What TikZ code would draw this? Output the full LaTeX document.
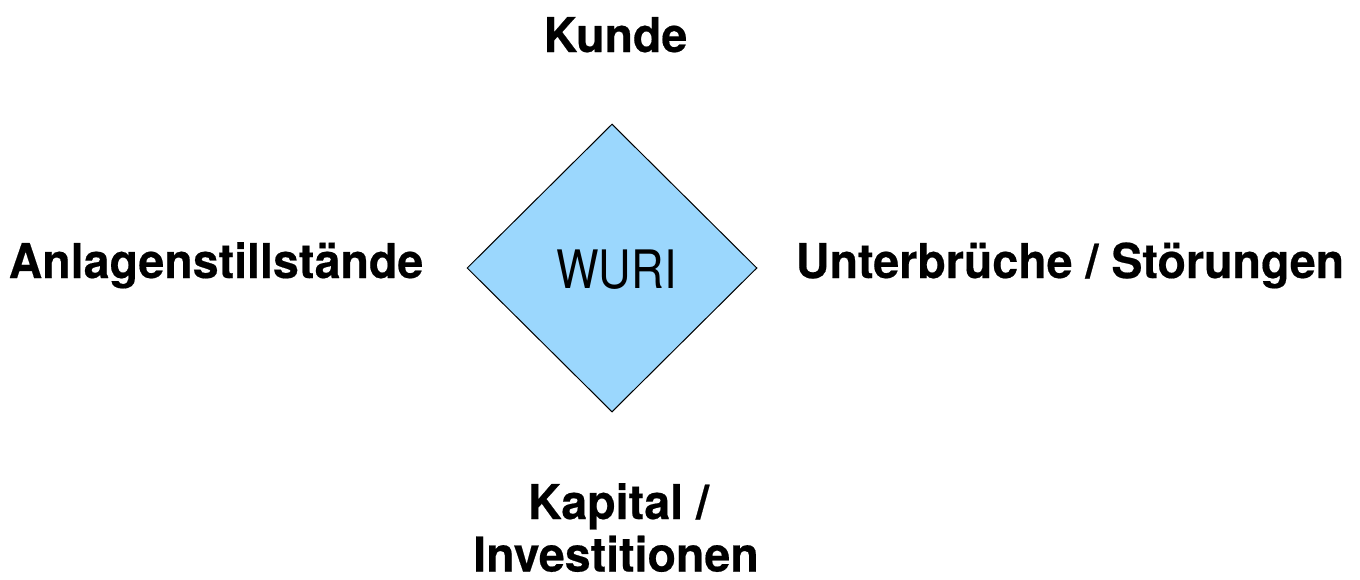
\documentclass[tikz,border=0pt]{standalone}
\usepackage{fontspec}
\setmainfont{TeX Gyre Heros}
\usetikzlibrary{shapes.geometric}
\definecolor{dfill}{HTML}{9BD7FD}
\tikzset{
  lbl/.style={font=\fontsize{48}{54}\selectfont\bfseries\addfontfeatures{FakeStretch=0.97,FakeBold=0.4}, anchor=base, inner sep=0pt, align=center},
  dia/.style={diamond, draw=black, line width=1pt, fill=dfill, minimum width=290pt, minimum height=288pt, inner sep=0pt, aspect=1}
}
\begin{document}
\begin{tikzpicture}[x=1pt,y=-1pt]
\useasboundingbox (0,0) rectangle (1360,579);
\node[dia] (d) at (612,268) {};
\node[font=\fontsize{53}{60}\selectfont\addfontfeatures{FakeStretch=0.85}, anchor=base, inner sep=0pt] (w) at (616.5,288) {WURI};
\node[lbl] (k) at (615.5,52) {Kunde};
\node[lbl] (a) at (216,278) {Anlagenstillstände};
\node[lbl] (u) at (1070,278) {Unterbrüche / Störungen};
\node[lbl] (c1) at (618.5,519) {Kapital /};
\node[lbl] (c2) at (616,571.5) {Investitionen};
\end{tikzpicture}
\end{document}
